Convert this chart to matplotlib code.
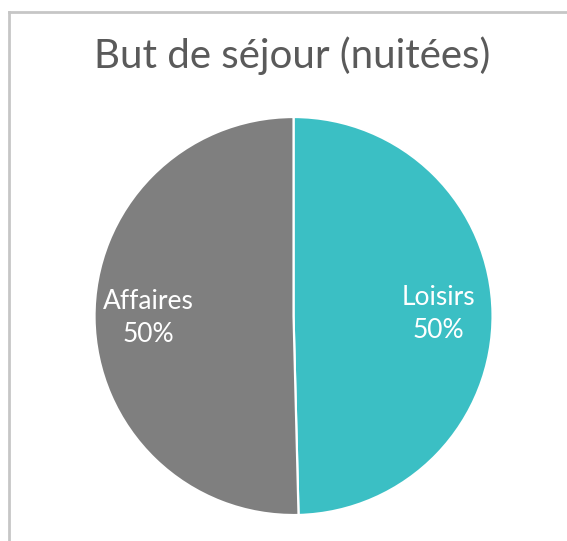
import matplotlib.pyplot as plt
from matplotlib.lines import Line2D

# ── Data ─────────────────────────────────────────────────
labels = ["Loisirs", "Affaires"]
shares = [49.6, 50.4]
colors = ["#3bbfc4", "#7f7f7f"]
title = "But de séjour (nuitées)"

plt.rcParams["font.family"] = ["Lato", "DejaVu Sans"]

fig = plt.figure(figsize=(5.67, 5.41), dpi=100)
ax = fig.add_axes([0.1667, 0.048, 0.702, 0.7357])

pie_labels = [f"{n}\n{round(v):.0f}%" for n, v in zip(labels, shares)]
wedges, texts = ax.pie(
    shares,
    labels=pie_labels,
    colors=colors,
    startangle=90,
    counterclock=False,
    labeldistance=0.73,
    wedgeprops=dict(edgecolor="white", linewidth=1.6),
    textprops=dict(color="white", fontsize=19, linespacing=1.4),
)
for t in texts:
    t.set_ha("center")
    t.set_va("center")
    t.set_multialignment("center")
ax.set_xlim(-1, 1)
ax.set_ylim(-1, 1)
ax.set_aspect("equal")

fig.text(0.515, 0.874, title, ha="center", va="baseline",
         fontsize=29, color="#5a5a5a")

# frame of the screenshot (left and top only)
border = "#c6c6c6"
fig.add_artist(Line2D([9 / 567, 9 / 567], [0, 529 / 541],
                      transform=fig.transFigure, color=border, lw=2))
fig.add_artist(Line2D([9 / 567, 1], [529 / 541, 529 / 541],
                      transform=fig.transFigure, color=border, lw=2))

plt.savefig("out.png", dpi=100)
